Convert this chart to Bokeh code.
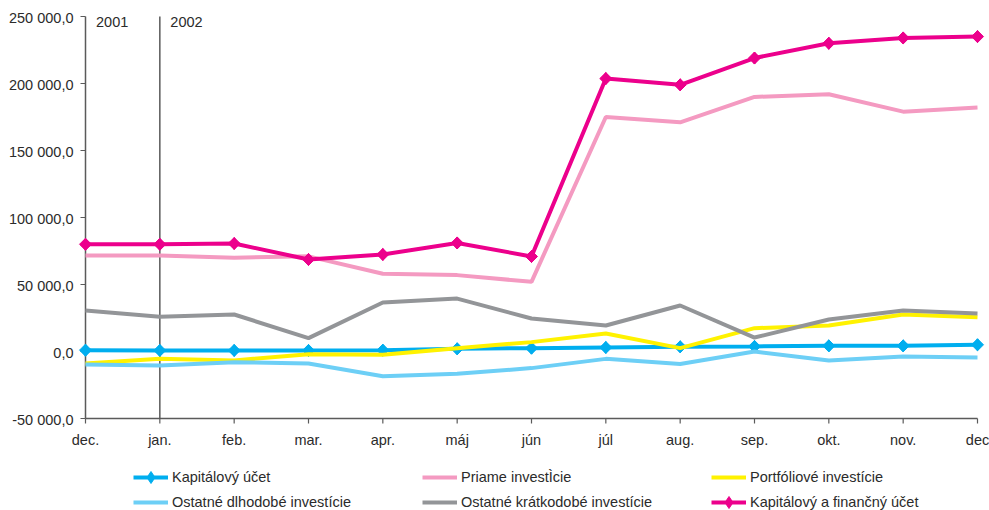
import math
from bokeh.plotting import figure
from bokeh.models import Range1d, Legend, LegendItem
from bokeh.core.properties import value
from bokeh.embed import file_html
from bokeh.resources import INLINE

months = ["dec.", "jan.", "feb.", "mar.", "apr.", "máj", "jún", "júl", "aug.", "sep.", "okt.", "nov.", "dec"]
kapitalovy_ucet = [1000, 800, 800, 800, 1000, 2000, 2500, 3000, 3500, 3800, 4200, 4200, 5000]
priame = [71600, 71600, 70000, 71000, 58000, 57000, 52000, 175000, 171000, 190000, 192000, 179000, 182000]
portfoliove = [-9000, -5500, -6700, -2000, -2500, 2500, 7000, 13400, 2500, 17400, 19400, 27600, 25600]
ostatne_dlhodobe = [-9700, -10500, -8000, -9000, -18400, -16600, -12400, -5500, -9400, 0, -6700, -3700, -4400]
ostatne_kratkodobe = [30600, 26000, 27600, 10000, 36600, 39500, 24600, 19400, 34300, 10400, 23900, 30600, 28400]
kap_fin_ucet = [80000, 80000, 80600, 68700, 72400, 81000, 70900, 203700, 199000, 219000, 230000, 234000, 235000]
y_ticks = [-50000, 0, 50000, 100000, 150000, 200000, 250000]
y_tick_labels = ["-50 000,0", "0,0", "50 000,0", "100 000,0", "150 000,0", "200 000,0", "250 000,0"]
years = ["2001", "2002"]
year_pos = [0, 1]

FONT = "Liberation Sans"
FS = "14.5px"
TXT = "#2b2b2b"
AX = "#5a5a5a"

W, H = 989, 510
x = list(range(len(months)))
y_min, y_max = y_ticks[0], y_ticks[-1]

# frame spans the whole canvas; ranges chosen so that the plot area sits where the reference has it
px_x = (977 - 85) / (len(months) - 1)
px_y = (418 - 16) / (y_max - y_min)
x_range = Range1d(-85 / px_x, (len(months) - 1) + (W - 977) / px_x)
y_range = Range1d(y_min - (H - 418) / px_y, y_max + 16 / px_y)

p = figure(width=W, height=H, output_backend="svg", toolbar_location=None,
           x_range=x_range, y_range=y_range,
           x_axis_location=None, y_axis_location=None,
           min_border=0, min_border_left=0, min_border_right=0, min_border_top=0, min_border_bottom=0)
p.outline_line_color = None
p.grid.visible = False
p.background_fill_color = "white"

# axis lines, year separator
p.segment(x0=[0, 0, year_pos[1]], y0=[y_min, y_min, y_min],
          x1=[x[-1], 0, year_pos[1]], y1=[y_min, y_max, y_max],
          line_color=AX, line_width=1.5)
# tick marks (outward, 5 px)
p.ray(x=[0] * len(y_ticks), y=y_ticks, length=5, length_units="screen", angle=math.pi,
      line_color=AX, line_width=1.2)
p.ray(x=x, y=[y_min] * len(x), length=5, length_units="screen", angle=-math.pi / 2,
      line_color=AX, line_width=1.2)

# tick labels
p.text(x=[0] * len(y_ticks), y=y_ticks, text=y_tick_labels, x_offset=-12, y_offset=1,
       text_align="right", text_baseline="alphabetic", text_font=value(FONT),
       text_font_size=FS, text_color=TXT)
p.text(x=x, y=[y_min] * len(x), text=months, y_offset=21,
       text_align="center", text_baseline="alphabetic", text_font=value(FONT),
       text_font_size=FS, text_color=TXT)
p.text(x=year_pos, y=[y_max, y_max], text=years, x_offset=10.5, y_offset=5,
       text_baseline="alphabetic", text_align="left", text_font=value(FONT),
       text_font_size=FS, text_color=TXT)

BLUE = "#00AEEF"
PINK = "#F49AC1"
YELLOW = "#FFF200"
LBLUE = "#6DCFF6"
GRAY = "#939598"
MAG = "#EC008C"
LW = 4
DS = 8.5

r1 = p.line(x, kapitalovy_ucet, line_color=BLUE, line_width=LW)
# diamond markers (used by the legend), covered by the rotated squares drawn on top
l1m = p.scatter(x, kapitalovy_ucet, marker="diamond", size=12, fill_color=BLUE, line_color=BLUE)
r1m = p.scatter(x, kapitalovy_ucet, marker="square", angle=math.pi / 4, size=DS, fill_color=BLUE, line_color=BLUE)
r2 = p.line(x, priame, line_color=PINK, line_width=LW)
r3 = p.line(x, portfoliove, line_color=YELLOW, line_width=LW)
r4 = p.line(x, ostatne_dlhodobe, line_color=LBLUE, line_width=LW)
r5 = p.line(x, ostatne_kratkodobe, line_color=GRAY, line_width=LW)
r6 = p.line(x, kap_fin_ucet, line_color=MAG, line_width=LW)
l6m = p.scatter(x, kap_fin_ucet, marker="diamond", size=12, fill_color=MAG, line_color=MAG)
r6m = p.scatter(x, kap_fin_ucet, marker="square", angle=math.pi / 4, size=DS, fill_color=MAG, line_color=MAG)

legend_style = dict(orientation="horizontal", glyph_width=35, glyph_height=30, label_height=18,
                    label_width=243, label_standoff=4, spacing=7, padding=0, margin=0,
                    border_line_color=None, background_fill_alpha=0,
                    label_text_font=FONT, label_text_font_size=FS, label_text_color=TXT)

legend_row1 = Legend(items=[
    LegendItem(label="Kapitálový účet", renderers=[r1, l1m]),
    LegendItem(label="Priame investÌcie", renderers=[r2]),
    LegendItem(label="Portfóliové investície", renderers=[r3]),
], location=(133, 18), **legend_style)
legend_row2 = Legend(items=[
    LegendItem(label="Ostatné dlhodobé investície", renderers=[r4]),
    LegendItem(label="Ostatné krátkodobé investície", renderers=[r5]),
    LegendItem(label="Kapitálový a finančný účet", renderers=[r6, l6m]),
], location=(133, -7), **legend_style)
p.add_layout(legend_row1, "center")
p.add_layout(legend_row2, "center")

open("out.html", "w").write(file_html(p, INLINE))
